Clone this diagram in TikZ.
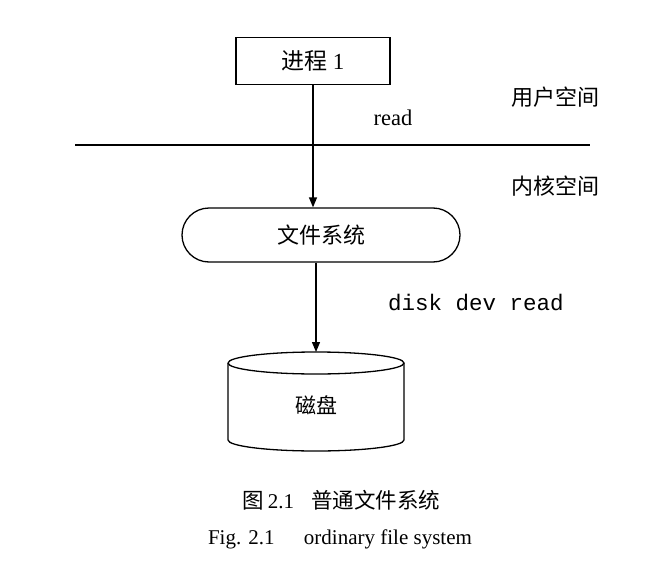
\documentclass[tikz,border=0pt]{standalone}
\usepackage{fontspec}
\setmainfont{Liberation Serif}
\setmonofont{Liberation Mono}
\newfontfamily\cjk{Noto Sans CJK SC}
\usetikzlibrary{arrows.meta}
\tikzset{
  line/.style={line width=1.3pt},
  arr/.style={line width=1.3pt,-{Triangle[length=10pt,width=8pt]}},
  cn/.style={font=\cjk\fontsize{22}{24}\selectfont, inner sep=0pt},
  rm/.style={font=\fontsize{22.5}{24}\selectfont, inner sep=0pt},
  captext/.style={font=\fontsize{21}{24}\selectfont, inner sep=0pt},
}
\begin{document}
\begin{tikzpicture}[x=1pt,y=-1pt]
\useasboundingbox[fill=white] (0,0) rectangle (664,562);
% process box
\node[draw, line, minimum width=154pt, minimum height=47pt, inner sep=0pt] (p1) at (313,61) {\cjk\fontsize{23}{25}\selectfont 进程\ {\rmfamily 1}};
% file system
\node[draw, line, rounded corners=27pt, minimum width=278pt, minimum height=54pt, inner sep=0pt] (fs) at (321,235) {\cjk\fontsize{22}{24}\selectfont 文件系统};
% separator line
\coordinate (l1) at (75,145);
\coordinate (l2) at (590,145);
\draw[line] (l1) -- (l2);
% labels
\node[rm] (rd) at (393,118) {read};
\node[cn] (us) at (555,97) {用户空间};
\node[cn] (ks) at (555,186) {内核空间};
\node[font=\ttfamily\fontsize{22.5}{24}\selectfont, inner sep=0pt] (dd) at (476,302) {disk dev read};
% disk cylinder
\coordinate (disktop) at (316,352);
\draw[line] (228,363) arc[start angle=180, end angle=0, x radius=88, y radius=-11]
  arc[start angle=0, end angle=-180, x radius=88, y radius=-11];
\draw[line] (228,363) -- (228,440) arc[start angle=180, end angle=360, x radius=88, y radius=-11] -- (404,363);
\node[cn, font=\cjk\fontsize{21}{23}\selectfont] (disk) at (316,405) {磁盘};
% arrows
\draw[arr] (p1.south) -- (p1.south |- fs.north);
\draw[arr] (fs.south -| disktop) -- (disktop);
% captions
\node[captext] (c1) at (341.5,500) {{\cjk\fontsize{21.5}{24}\selectfont 图}\,2.1\hspace{0.8em}{\cjk\fontsize{21.5}{24}\selectfont 普通文件系统}};
\node[captext] (c2) at (340,539) {Fig. 2.1\hspace{1.4em}ordinary file system};
\end{tikzpicture}
\end{document}
